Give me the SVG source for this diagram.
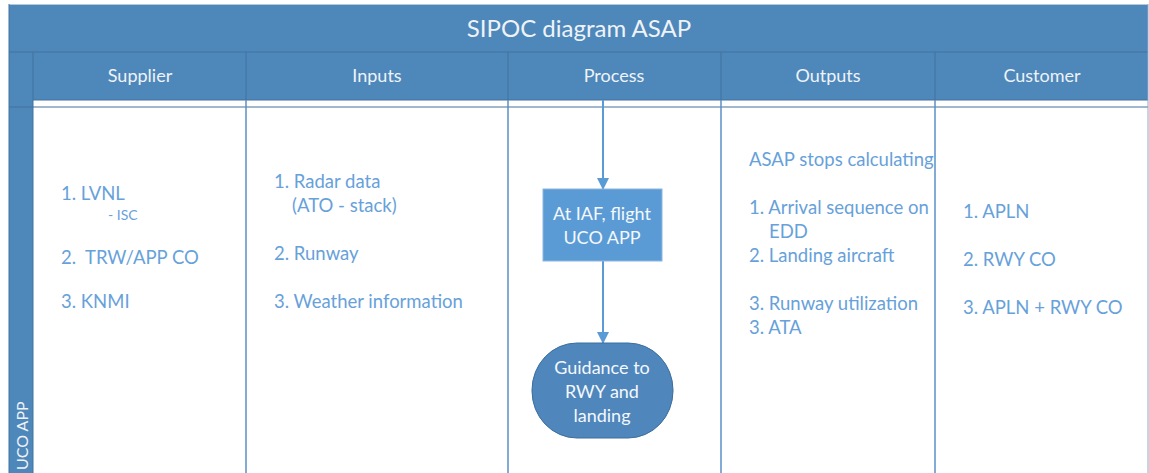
<svg xmlns="http://www.w3.org/2000/svg" width="1149" height="473" viewBox="0 0 1149 473">
<defs>
<style>
.hdr{fill:#4E87BA}
.ht{font-family:Lato,"Liberation Sans",sans-serif;fill:#EEF3F8;text-anchor:middle}
.bt{font-family:Lato,"Liberation Sans",sans-serif;fill:#67A1DA;font-size:18.5px}
.col{stroke:#5B8FC4;stroke-width:1.5;fill:none}
.wt{font-family:Lato,"Liberation Sans",sans-serif;fill:#F4F8FC;font-size:18px;text-anchor:middle}
.conn{stroke:#5B9BD5;stroke-width:2;fill:none}
</style>
<marker id="ah" markerWidth="12" markerHeight="12" refX="11" refY="6" orient="auto" markerUnits="userSpaceOnUse">
<path d="M0,0 L12,6 L0,12 Z" fill="#5B9BD5"/>
</marker>
</defs>
<rect width="1149" height="473" fill="#FFFFFF"/>
<g id="frame">
<rect x="9" y="5" width="1139" height="95" class="hdr"/>
<rect x="9" y="100" width="24" height="373" class="hdr"/>
<line x1="9" y1="4.5" x2="1148" y2="4.5" stroke="#B8C8D8" stroke-width="1"/>
<line x1="9" y1="52" x2="1148" y2="52" stroke="#41729F" stroke-width="1"/>
<line x1="33" y1="100" x2="1148" y2="100" stroke="#41729F" stroke-width="1"/>
<line x1="9" y1="107" x2="1148" y2="107" stroke="#41729F" stroke-width="1"/>
<line x1="33" y1="52" x2="33" y2="473" stroke="#41729F" stroke-width="1"/>
<line x1="9" y1="4" x2="9" y2="473" stroke="#41729F" stroke-width="1"/>
<line x1="1148" y1="4" x2="1148" y2="473" stroke="#8FA8C8" stroke-width="1"/>
<line x1="246" y1="52" x2="246" y2="100" stroke="#41729F" stroke-width="1"/>
<line x1="508" y1="52" x2="508" y2="100" stroke="#41729F" stroke-width="1"/>
<line x1="721" y1="52" x2="721" y2="100" stroke="#41729F" stroke-width="1"/>
<line x1="935" y1="52" x2="935" y2="100" stroke="#41729F" stroke-width="1"/>
<line x1="246" y1="100" x2="246" y2="473" class="col"/>
<line x1="508" y1="100" x2="508" y2="473" class="col"/>
<line x1="721" y1="100" x2="721" y2="473" class="col"/>
<line x1="935" y1="100" x2="935" y2="473" class="col"/>
<text x="579" y="37" class="ht" font-size="24">SIPOC diagram ASAP</text>
<text x="140" y="82" class="ht" font-size="18">Supplier</text>
<text x="377" y="82" class="ht" font-size="18">Inputs</text>
<text x="614" y="82" class="ht" font-size="18">Process</text>
<text x="828" y="82" class="ht" font-size="18">Outputs</text>
<text x="1042" y="82" class="ht" font-size="18">Customer</text>
<text transform="translate(28,470) rotate(-90)" class="ht" font-size="16" style="text-anchor:start">UCO APP</text>
</g>
<g id="supplier">
<text x="61" y="200" class="bt">1. LVNL</text>
<text x="108" y="220" class="bt" style="font-size:14px">- ISC</text>
<text x="61" y="264" class="bt" xml:space="preserve">2.  TRW/APP CO</text>
<text x="61" y="308" class="bt">3. KNMI</text>
</g>
<g id="inputs">
<text x="274" y="188" class="bt">1. Radar data</text>
<text x="292" y="212" class="bt">(ATO - stack)</text>
<text x="274" y="260" class="bt">2. Runway</text>
<text x="274" y="308" class="bt">3. Weather information</text>
</g>
<g id="outputs">
<text x="749" y="166" class="bt">ASAP stops calculating</text>
<text x="749" y="214" class="bt">1. Arrival sequence on</text>
<text x="769" y="238" class="bt">EDD</text>
<text x="749" y="262" class="bt">2. Landing aircraft</text>
<text x="749" y="310" class="bt">3. Runway utilization</text>
<text x="749" y="334" class="bt">3. ATA</text>
</g>
<g id="customer">
<text x="963" y="218" class="bt">1. APLN</text>
<text x="963" y="266" class="bt">2. RWY CO</text>
<text x="963" y="314" class="bt">3. APLN + RWY CO</text>
</g>
<g id="connectors">
<line x1="603" y1="100" x2="603" y2="189" class="conn" marker-end="url(#ah)"/>
<line x1="603" y1="261" x2="603" y2="343" class="conn" marker-end="url(#ah)"/>
</g>
<g id="process-step">
<rect x="543" y="189" width="119" height="72" fill="#5B9BD5" stroke="#8DB6E0" stroke-width="1"/>
<text x="602" y="220" class="wt">At IAF, flight</text>
<text x="602" y="244" class="wt">UCO APP</text>
</g>
<g id="end-step">
<rect x="532" y="343" width="141" height="95" rx="45" ry="47" fill="#4F86BC" stroke="#3C6E9E" stroke-width="1"/>
<text x="602" y="374" class="wt">Guidance to</text>
<text x="602" y="398" class="wt">RWY and</text>
<text x="602" y="422" class="wt">landing</text>
</g>
</svg>
